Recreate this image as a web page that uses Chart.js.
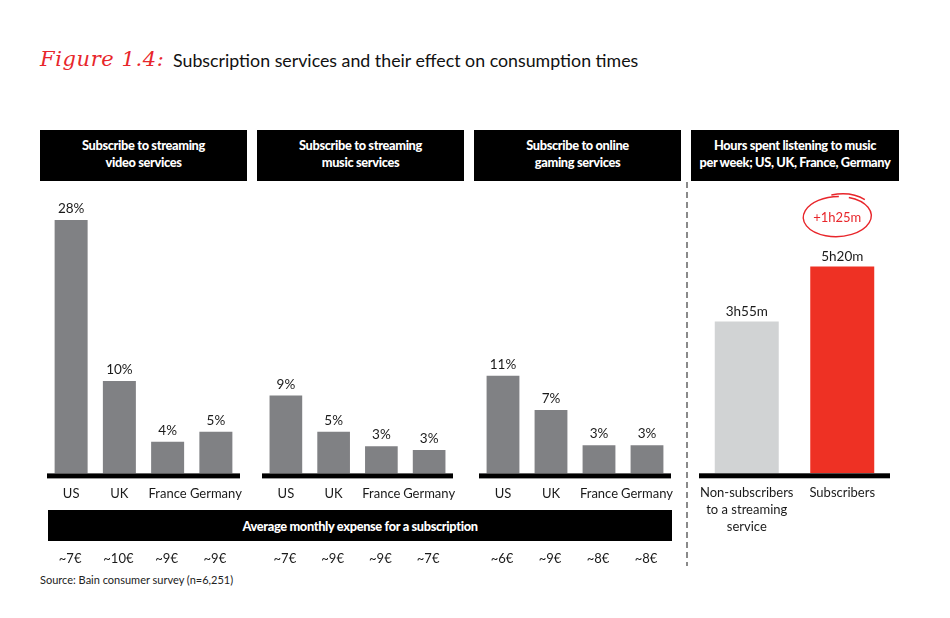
<!DOCTYPE html>
<html><head><meta charset="utf-8">
<script src="https://cdn.jsdelivr.net/npm/chart.js@4.4.1/dist/chart.umd.min.js"></script>
<style>
body{margin:0;background:#fff;}
#wrap{position:relative;width:950px;height:618px;overflow:hidden;background:#fff;font-family:Lato,"Open Sans",sans-serif;color:#1a1a1a;}
.cv{position:absolute;}
.hdr{position:absolute;top:130px;height:51px;box-sizing:border-box;padding-bottom:4px;background:#000;color:#fff;font-weight:900;font-size:12.8px;line-height:17px;text-align:center;display:flex;align-items:center;justify-content:center;letter-spacing:-0.35px;}
#fig{position:absolute;left:40px;top:44px;font-family:"DejaVu Serif",serif;font-style:italic;font-size:21px;color:#e8262b;line-height:30px;letter-spacing:0.6px;}
#ttl{position:absolute;left:173px;top:45px;font-size:17.8px;line-height:30px;color:#111;}
#exp{position:absolute;left:48px;top:510px;width:624px;height:31px;background:#000;color:#fff;font-weight:900;font-size:12.8px;letter-spacing:-0.35px;display:flex;align-items:center;justify-content:center;}
#dash{position:absolute;left:686px;top:182px;width:1.5px;height:384px;background:repeating-linear-gradient(to bottom,#8a8a8a 0 6px,transparent 6px 10px);}
#src{position:absolute;left:40px;top:572px;font-size:11px;line-height:16px;color:#222;}
</style></head>
<body><div id="wrap">
<div id="fig">Figure 1.4:</div>
<div id="ttl">Subscription services and their effect on consumption times</div>
<div class="hdr" style="left:40px;width:207px;">Subscribe to streaming<br>video services</div>
<div class="hdr" style="left:257px;width:207px;">Subscribe to streaming<br>music services</div>
<div class="hdr" style="left:474px;width:207px;">Subscribe to online<br>gaming services</div>
<div class="hdr" style="left:691px;width:208px;">Hours spent listening to music<br>per week; US, UK, France, Germany</div>
<div id="dash"></div>
<div id="exp">Average monthly expense for a subscription</div>
<div id="src">Source: Bain consumer survey (n=6,251)</div>
<canvas id="c1" class="cv" style="left:40px;top:185px;" width="207" height="385"></canvas>
<canvas id="c2" class="cv" style="left:257px;top:185px;" width="207" height="385"></canvas>
<canvas id="c3" class="cv" style="left:474px;top:185px;" width="207" height="385"></canvas>
<canvas id="c4" class="cv" style="left:691px;top:185px;" width="208" height="370"></canvas>
</div>
<script>
// ---- data ----
const countries = ['US', 'UK', 'France', 'Germany'];
const videoShare = [28, 10.2, 3.5, 4.6];
const musicShare = [8.6, 4.6, 3.0, 2.6];
const gamingShare = [10.8, 7.0, 3.1, 3.1];
const videoExpense = ['~7€', '~10€', '~9€', '~9€'];
const musicExpense = ['~7€', '~9€', '~9€', '~7€'];
const gamingExpense = ['~6€', '~9€', '~8€', '~8€'];
const listenGroups = [['Non-subscribers', 'to a streaming', 'service'], ['Subscribers']];
const listenMinutes = [235, 320];
const shareMax = 30;
const minutesMax = 420;

// ---- helpers ----
const FONT = 'Lato, "Open Sans", sans-serif';
const fmtPct = v => Math.round(v) + '%';
const fmtMin = m => Math.floor(m / 60) + 'h' + String(m % 60).padStart(2, '0') + 'm';

const barLabels = {
  id: 'barLabels',
  afterDatasetsDraw(chart, args, opts) {
    const ctx = chart.ctx, area = chart.chartArea;
    ctx.save();
    // baseline
    ctx.fillStyle = '#000';
    ctx.fillRect(area.left, area.bottom, area.right - area.left, 5);
    const meta = chart.getDatasetMeta(0);
    const vals = chart.data.datasets[0].data;
    ctx.fillStyle = '#1a1a1a';
    ctx.font = '13.5px ' + FONT;
    ctx.textAlign = 'center';
    ctx.textBaseline = 'alphabetic';
    meta.data.forEach((el, i) => {
      ctx.fillText(opts.fmt(vals[i]), el.x, el.y - opts.gap);
    });
    if (opts.expense) {
      const xs = chart.scales.x;
      ctx.font = '13px ' + FONT;
      ctx.textBaseline = 'middle';
      opts.expense.forEach((t, i) => {
        ctx.fillText(t, xs.getPixelForValue(i) - 1, area.bottom + 85);
      });
    }
    if (opts.diff) {
      const el = meta.data[1];
      const cx = el.x - 5, cy = el.y - 50;
      ctx.strokeStyle = '#e8262b';
      ctx.lineWidth = 1.4;
      ctx.beginPath();
      ctx.ellipse(cx, cy, 34, 20, -0.04, -1.2, Math.PI * 2 - 1.5);
      ctx.stroke();
      ctx.beginPath();
      ctx.ellipse(cx + 2, cy - 1, 35, 21.5, -0.08, -1.75, -0.7);
      ctx.stroke();
      ctx.fillStyle = '#e8262b';
      ctx.font = '13px ' + FONT;
      ctx.textBaseline = 'middle';
      ctx.fillText(opts.diff, cx, cy + 1);
    }
    ctx.restore();
  }
};

function makeChart(id, labels, data, colors, yMax, fmt, gap, pad, barPct, expense, diff, lineH, tickPad) {
  return new Chart(document.getElementById(id), {
    type: 'bar',
    data: { labels: labels, datasets: [{ data: data, backgroundColor: colors, borderWidth: 0,
      categoryPercentage: 1, barPercentage: barPct }] },
    options: {
      responsive: false, animation: false, maintainAspectRatio: false,
      layout: { padding: pad },
      plugins: { legend: { display: false }, tooltip: { enabled: false },
        barLabels: { fmt: fmt, gap: gap, expense: expense, diff: diff } },
      scales: {
        x: { grid: { display: false, drawTicks: false }, border: { display: false },
          afterFit(s) { s.paddingLeft = 0; s.paddingRight = 0; },
          ticks: { color: '#1a1a1a', padding: tickPad, font: { family: FONT, size: 13, lineHeight: lineH }, maxRotation: 0, autoSkip: false } },
        y: { display: false, min: 0, max: yMax }
      }
    },
    plugins: [barLabels]
  });
}

const grey = '#808184';
makeChart('c1', countries, videoShare, grey, shareMax, fmtPct, 7, { left: 7, right: 7, top: 17, bottom: 55 }, 0.684, videoExpense, null, 1.2, 13);
makeChart('c2', countries, musicShare, grey, shareMax, fmtPct, 7, { left: 5, right: 11, top: 17, bottom: 55 }, 0.684, musicExpense, null, 1.2, 13);
makeChart('c3', countries, gamingShare, grey, shareMax, fmtPct, 7, { left: 5, right: 10, top: 17, bottom: 55 }, 0.684, gamingExpense, null, 1.2, 13);
makeChart('c4', listenGroups, listenMinutes, ['#d1d3d4', '#ee3124'], minutesMax, fmtMin, 5.5, { left: 8, right: 9, top: 17, bottom: 8 }, 0.67, null,
  '+' + fmtMin(listenMinutes[1] - listenMinutes[0]), 1.3, 11.5);
</script>
</body></html>
